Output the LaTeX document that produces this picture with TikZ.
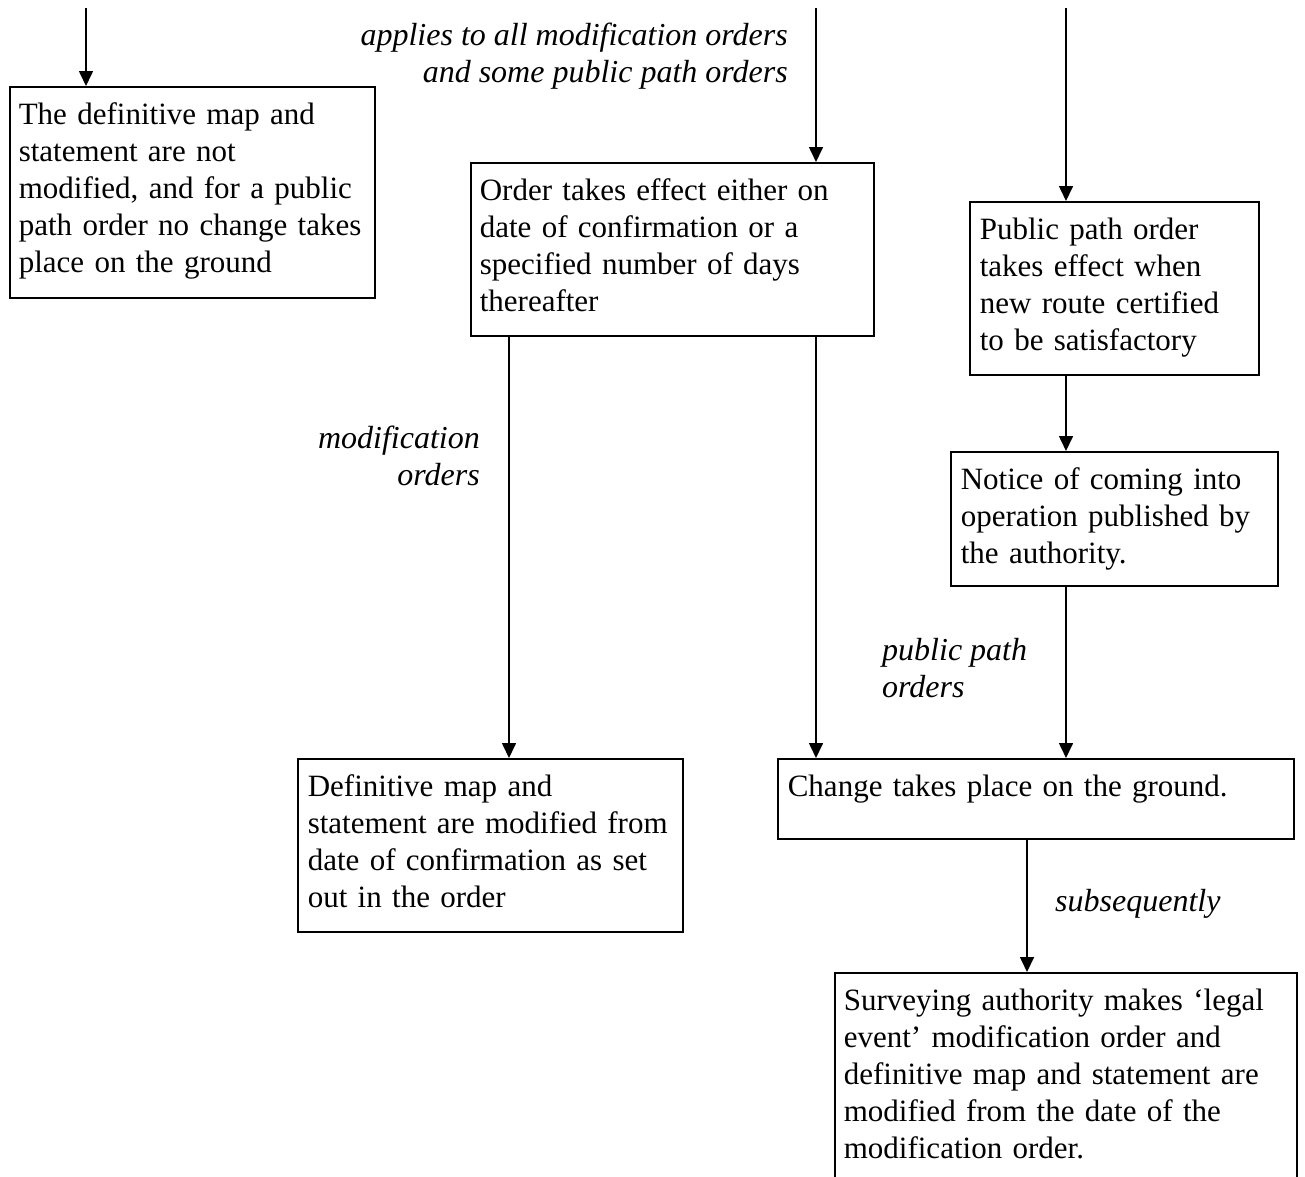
\documentclass[tikz,border=0pt]{standalone}
\usepackage{fontspec}
\setmainfont{Liberation Serif}
\usetikzlibrary{arrows.meta}
\begin{document}
\begin{tikzpicture}[x=1pt,y=-1pt,
  box/.style={draw, line width=1.6pt, anchor=north west, inner xsep=9pt, inner ysep=0pt, align=left, font=\fontsize{31pt}{36.8pt}\selectfont},
  lbl/.style={inner sep=0pt, font=\fontsize{32pt}{36.8pt}\selectfont\itshape},
  arr/.style={line width=1.6pt, -{Triangle[length=15pt,width=14pt]}}]
\clip (0,0) rectangle (1305,1176);
\fill[white] (0,0) rectangle (1305,1176);

\node[box, text width=347pt] (A) at (9,86) {\rule{0pt}{38pt}\mbox{The definitive map and}\\\mbox{statement are not}\\\mbox{modified, and for a public}\\\mbox{path order no change takes}\\\mbox{place on the ground}\rule[-25.8pt]{0pt}{25.8pt}};
\node[box, text width=385pt] (B) at (470,162) {\rule{0pt}{38pt}\mbox{Order takes effect either on}\\\mbox{date of confirmation or a}\\\mbox{specified number of days}\\\mbox{thereafter}\rule[-24.6pt]{0pt}{24.6pt}};
\node[box, inner xsep=10pt, text width=269pt] (C) at (969,201) {\rule{0pt}{38pt}\mbox{Public path order}\\\mbox{takes effect when}\\\mbox{new route certified}\\\mbox{to be satisfactory}\rule[-24.6pt]{0pt}{24.6pt}};
\node[box, inner xsep=10pt, text width=307pt] (D) at (950,451) {\rule{0pt}{38pt}\mbox{Notice of coming into}\\\mbox{operation published by}\\\mbox{the authority.}\rule[-22.4pt]{0pt}{22.4pt}};
\node[box, inner xsep=10pt, text width=365pt] (E) at (297,758) {\rule{0pt}{38pt}\mbox{Definitive map and}\\\mbox{statement are modified from}\\\mbox{date of confirmation as set}\\\mbox{out in the order}\rule[-24.6pt]{0pt}{24.6pt}};
\node[box, inner xsep=10pt, text width=496pt] (F) at (777,758) {\rule{0pt}{38pt}\mbox{Change takes place on the ground.}\rule[-42pt]{0pt}{42pt}};
\node[box, text width=444pt] (G) at (834,972) {\rule{0pt}{38pt}\mbox{Surveying authority makes ‘legal}\\\mbox{event’ modification order and}\\\mbox{definitive map and statement are}\\\mbox{modified from the date of the}\\\mbox{modification order.}\rule[-25pt]{0pt}{25pt}};

\coordinate (tA) at (86,8);
\coordinate (tB) at (816,8);
\coordinate (tC) at (1066,8);
\coordinate (xBE) at (509,0);
\coordinate (xFG) at (1027,0);
\draw[arr] (tA) -- (tA |- A.north);
\draw[arr] (tB) -- (tB |- B.north);
\draw[arr] (tC) -- (tC |- C.north);
\draw[arr] (xBE |- B.south) -- (xBE |- E.north);
\draw[arr] (tB |- B.south) -- (tB |- F.north);
\draw[arr] (tC |- C.south) -- (tC |- D.north);
\draw[arr] (tC |- D.south) -- (tC |- F.north);
\draw[arr] (xFG |- F.south) -- (xFG |- G.north);

\node[lbl, align=right, anchor=north east] (L1) at (788,20) {\rule{0pt}{25pt}applies to all modification orders\\and some public path orders};
\node[lbl, align=right, anchor=north east] (L2) at (480,423) {\rule{0pt}{25pt}modification\\orders};
\node[lbl, align=left, anchor=north west] (L3) at (882,635) {\rule{0pt}{25pt}public path\\orders};
\node[lbl, anchor=north west] (L4) at (1055,886) {\rule{0pt}{25pt}subsequently};
\end{tikzpicture}
\end{document}
